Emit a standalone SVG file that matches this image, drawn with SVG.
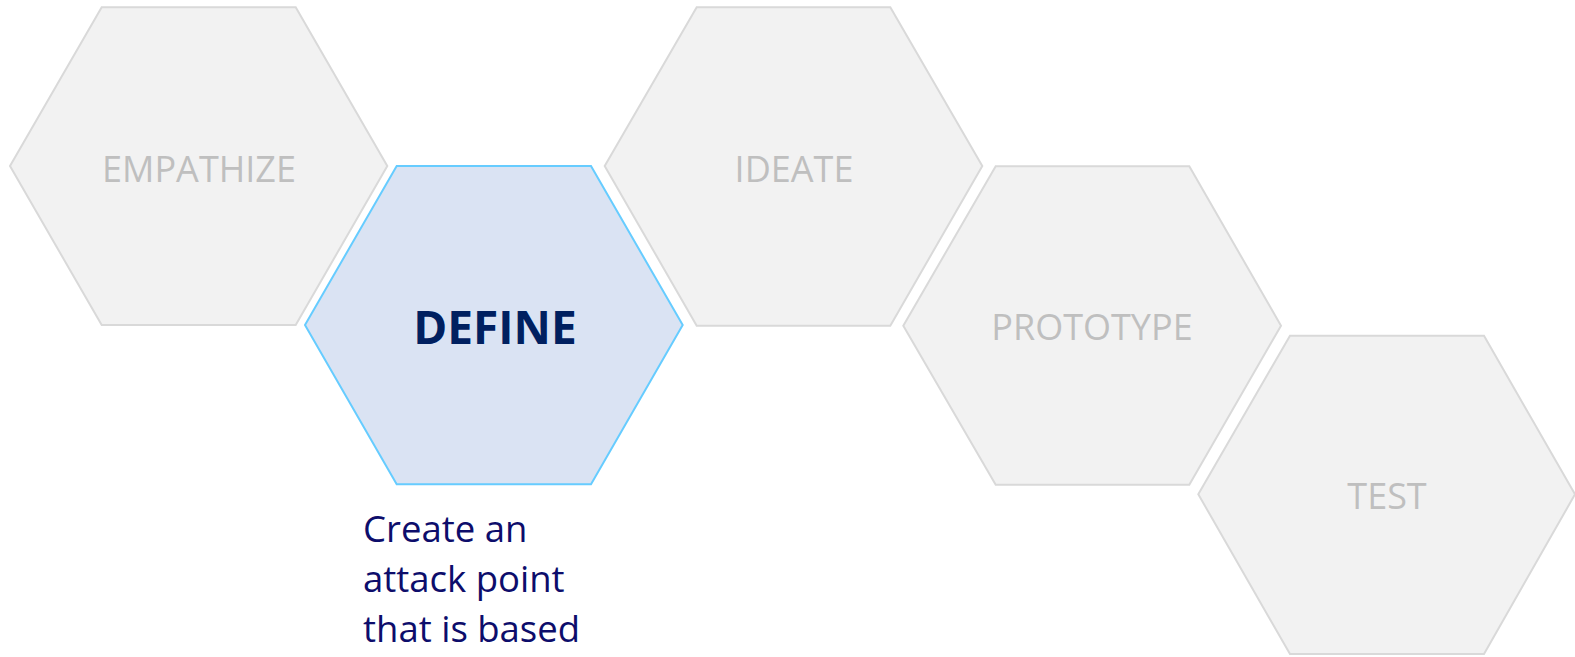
<svg xmlns="http://www.w3.org/2000/svg" width="1575" height="657" viewBox="0 0 1575 657">
<style>
.hex{fill:#F2F2F2;stroke:#D9D9D9;stroke-width:2}
.hexa{fill:#DAE3F3;stroke:#66CCFF;stroke-width:2}
.lbl{font-family:"Open Sans","Liberation Sans",sans-serif;font-size:36px;fill:#BFBFBF;text-anchor:middle}
.lbla{font-family:"Open Sans","Liberation Sans",sans-serif;font-size:46px;font-weight:bold;fill:#002060;text-anchor:middle}
.body{font-family:"Open Sans","Liberation Sans",sans-serif;font-size:36.5px;fill:#0D0D6B}
</style>
<g id="empathize">
<polygon class="hex" points="10,166 101.7,7.3 295.7,7.3 387.3,166 295.7,325 101.7,325"/>
<text class="lbl" x="199" y="181.5">EMPATHIZE</text>
</g>
<g id="define">
<polygon class="hexa" points="305,325 396.7,166 591,166 682.7,325 591,484.3 396.7,484.3"/>
<text class="lbla" x="495" y="344.3">DEFINE</text>
</g>
<g id="ideate">
<polygon class="hex" points="604.7,166 696.7,7.3 890.3,7.3 982.3,166 890.3,325.7 696.7,325.7"/>
<text class="lbl" x="794" y="181.5">IDEATE</text>
</g>
<g id="prototype">
<polygon class="hex" points="903.3,325.7 995.7,166.3 1189.3,166.3 1281,325.7 1189.3,484.7 995.7,484.7"/>
<text class="lbl" x="1092" y="340">PROTOTYPE</text>
</g>
<g id="test">
<polygon class="hex" points="1198.3,494.3 1290,335.7 1484,335.7 1575,494.3 1484,654 1290,654"/>
<text class="lbl" x="1387" y="509">TEST</text>
</g>
<g id="connectors"/>
<g id="define-note">
<text class="body" x="363" y="541.7">Create an</text>
<text class="body" x="363" y="591.7">attack point</text>
<text class="body" x="363" y="642">that is based</text>
</g>
</svg>
